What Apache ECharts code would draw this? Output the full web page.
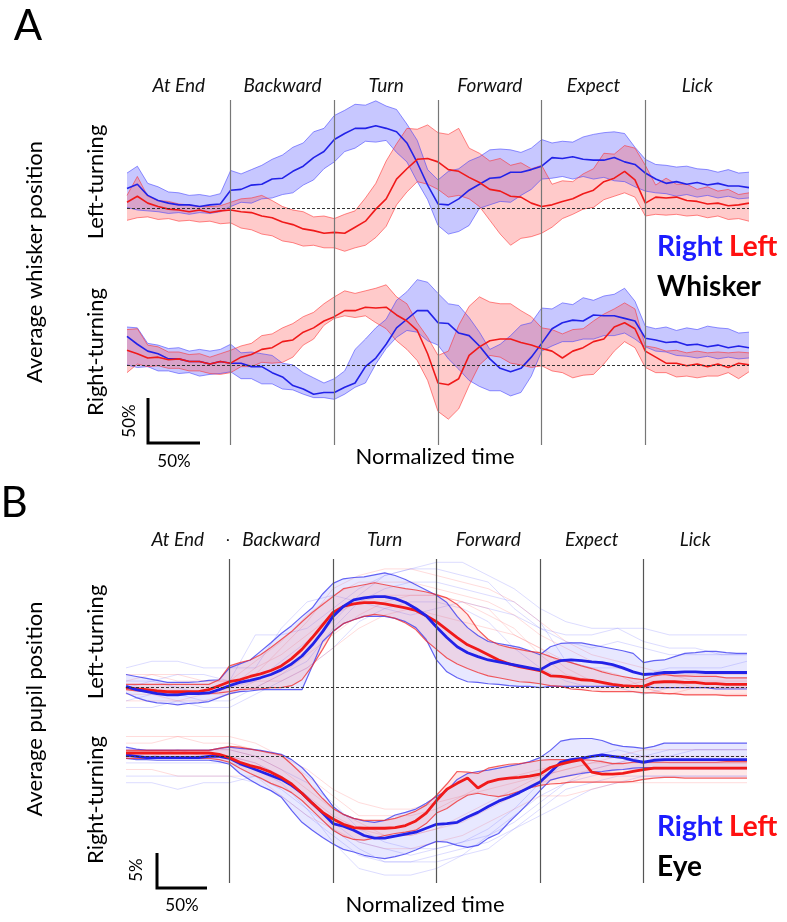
<!DOCTYPE html>
<html>
<head>
<meta charset="utf-8">
<script src="https://cdn.jsdelivr.net/npm/echarts@6/dist/echarts.min.js"></script>
<style>
  html, body { margin: 0; padding: 0; background: #fff; }
  #chart { width: 787px; height: 922px; }
</style>
</head>
<body>
<div id="chart"></div>
<script>
// normalized time, 100 units per behavioural phase
const TIME = [0,10,20,30,40,50,60,70,80,90,100,110,120,130,140,150,160,170,180,190,200,210,220,230,240,250,260,270,280,290,300,310,320,330,340,350,360,370,380,390,400,410,420,430,440,450,460,470,480,490,500,510,520,530,540,550,560,570,580,590,600];
const TIME_COARSE = [0,25,50,75,100,125,150,175,200,225,250,275,300,325,350,375,400,425,450,475,500,525,550,575,600];
const PHASES = ['At End', 'Backward', 'Turn', 'Forward', 'Expect', 'Lick'];
const PHASE_BOUNDS = [100, 200, 300, 400, 500];

// A: average whisker position (%), left-turning trials
const A_LT_R_MEAN = [23,28,15,9,6,4,4,2,4,5,21,22,27,28,34,35,43,49,59,66,80,87,93,93,96,93,89,76,53,27,5,4,11,21,28,35,36,42,42,45,49,59,58,60,57,56,56,59,54,51,41,34,29,31,28,30,27,29,26,26,24];
const A_LT_R_HI = [41,49,29,25,19,18,15,16,14,17,44,40,45,50,57,62,71,76,89,93,108,114,121,120,125,119,115,98,79,45,33,43,46,55,60,68,69,68,65,70,80,76,78,77,83,86,88,89,87,71,57,51,50,48,49,46,45,42,45,41,42];
const A_LT_R_LO = [1,-2,-3,-4,-6,-5,-7,-5,-6,-4,2,7,6,11,12,16,18,27,33,46,54,66,70,78,77,79,65,54,31,10,-20,-30,-27,-20,0,4,8,7,15,22,34,35,37,34,37,34,36,32,31,25,20,18,17,14,16,13,15,12,14,11,12];
const A_LT_L_MEAN = [7,14,6,2,-1,-2,-4,-2,-5,-3,-2,-4,-5,-9,-11,-16,-19,-24,-26,-29,-28,-29,-22,-15,-1,11,34,46,57,58,54,45,43,36,30,22,20,14,13,6,2,4,8,11,17,21,31,35,43,33,6,13,12,13,9,8,5,6,3,4,6];
const A_LT_L_HI = [15,37,14,9,8,5,4,2,2,3,7,11,12,15,9,2,-2,-4,-10,-9,-12,-7,-3,12,29,55,75,93,92,97,88,86,93,70,64,55,58,50,53,46,50,28,32,31,40,46,64,63,73,70,50,27,35,28,28,22,25,20,22,16,18];
const A_LT_L_LO = [-14,-11,-10,-13,-12,-15,-14,-16,-15,-18,-17,-23,-25,-30,-32,-38,-40,-44,-43,-46,-46,-50,-46,-43,-34,-21,4,19,31,28,22,13,15,11,2,-14,-30,-43,-35,-33,-29,-22,-12,-7,-1,1,10,14,18,13,-9,-7,-8,-7,-9,-8,-11,-9,-13,-12,-15];

// A: right-turning trials
const A_RT_R_MEAN = [33,24,16,13,7,7,4,4,1,4,2,2,-2,-2,-9,-14,-24,-28,-34,-32,-32,-26,-21,-2,8,24,43,53,63,63,49,48,37,34,22,7,-4,-8,-4,9,25,42,49,52,51,58,57,57,54,51,31,29,26,27,23,24,21,23,20,22,20];
const A_RT_R_HI = [44,43,25,23,19,20,16,18,16,18,24,14,15,13,11,2,0,-9,-15,-21,-16,-7,18,30,43,53,75,85,99,96,83,71,69,55,38,18,24,34,46,49,66,65,72,70,78,75,80,82,89,74,45,42,44,40,43,41,45,43,42,37,38];
const A_RT_R_LO = [0,-3,-2,-7,-7,-10,-9,-13,-11,-10,-8,-16,-16,-22,-22,-28,-29,-34,-38,-38,-40,-34,-26,-21,1,19,32,40,38,28,23,7,-5,-18,-25,-30,-30,-36,-32,-13,16,22,27,27,30,30,34,34,37,30,21,16,15,11,10,8,10,7,9,7,8];
const A_RT_L_MEAN = [17,13,8,9,6,7,4,4,1,4,2,9,12,18,20,27,29,38,43,51,56,63,63,67,66,67,58,51,40,13,-21,-23,-16,11,21,28,30,30,26,23,19,16,8,16,20,27,30,44,49,42,16,9,2,2,-1,1,-2,1,-3,2,0];
const A_RT_L_HI = [41,42,23,21,15,15,12,13,9,13,17,22,25,34,36,43,48,56,61,71,79,86,83,86,89,93,79,71,49,32,11,16,46,68,79,73,71,71,63,56,43,41,36,41,42,51,59,65,72,65,22,20,16,17,14,16,14,15,14,15,14];
const A_RT_L_LO = [-9,1,-2,-1,-4,-4,-7,-7,-10,-11,-9,-2,-2,3,2,3,9,23,30,46,54,57,55,57,49,42,28,18,5,-18,-54,-63,-51,-24,0,11,9,2,0,-3,-1,-7,-9,-15,-12,-11,1,16,27,20,-3,-9,-9,-14,-13,-15,-13,-13,-9,-16,-8];

// B: average pupil position (%), left-turning trials
const B_LT_R_MEAN = [0.2,-0.3,-0.6,-0.9,-1.1,-1.1,-0.9,-0.9,-0.8,-0.3,0.3,0.8,1.1,1.5,2.0,2.7,3.6,4.8,6.5,8.5,10.8,12.3,13.3,13.6,13.8,13.8,13.5,12.9,12.0,10.9,9.2,7.6,6.2,5.3,4.7,4.2,3.9,3.6,3.3,3.0,2.7,3.6,4.1,4.2,4.1,3.9,3.8,3.5,3.0,2.4,2.0,2.1,2.3,2.3,2.4,2.4,2.3,2.3,2.3,2.3,2.3];
const B_LT_R_HI = [2.0,1.7,1.4,1.1,0.8,0.8,0.8,0.9,1.1,1.2,3.0,3.6,4.2,5.5,6.8,8.2,9.4,10.8,12.1,14.2,15.8,16.5,16.7,16.8,17.1,17.4,17.0,16.4,15.6,14.8,14.0,12.9,10.8,9.1,7.9,7.0,6.7,6.4,6.1,5.6,5.0,6.2,6.7,6.8,6.8,6.5,6.2,5.9,5.6,5.2,3.8,4.1,4.2,4.7,5.2,5.3,5.5,5.5,5.3,5.2,5.2];
const B_LT_R_LO = [-0.8,-1.5,-2.0,-2.3,-2.4,-2.6,-2.4,-2.3,-2.1,-1.5,-0.9,-0.6,-0.5,-0.3,-0.3,-0.3,-0.3,-0.3,3.3,7.0,8.5,9.7,10.3,10.8,10.8,10.8,10.5,10.0,9.1,7.3,4.2,2.4,1.5,0.9,0.8,0.6,0.5,0.3,0.2,0.2,0,0.2,0.2,0.2,0.2,0.2,0.2,0.2,0.2,0.2,0.2,0,0,0,0,0,0,-0.2,-0.2,-0.2,-0.2];
const B_LT_L_MEAN = [0,-0.2,-0.3,-0.5,-0.6,-0.6,-0.6,-0.6,-0.3,0.3,0.9,1.2,1.7,2.1,2.6,3.3,4.4,5.8,7.6,9.5,11.4,12.3,12.7,12.9,12.9,12.7,12.4,12.1,11.7,10.9,10.0,8.8,7.6,6.5,5.8,5.0,4.2,3.6,3.2,2.9,2.6,1.8,1.7,1.5,1.2,1.1,0.8,0.5,0.3,0.2,0.2,0.8,0.9,0.9,0.8,0.8,0.6,0.6,0.5,0.5,0.5];
const B_LT_L_HI = [0.5,0.5,0.5,0.5,0.5,0.5,0.5,0.5,0.5,1.2,3.3,3.8,4.2,5.0,6.1,7.3,8.5,10.0,11.4,12.6,13.8,15.0,15.3,15.6,15.9,15.6,15.3,15.0,14.8,14.5,14.1,13.6,12.6,11.1,8.8,7.3,6.5,6.1,5.8,5.5,5.3,4.7,4.2,3.8,3.3,2.9,2.4,2.0,1.7,1.4,1.2,1.8,2.0,1.8,1.8,1.7,1.7,1.7,1.5,1.5,1.5];
const B_LT_L_LO = [-0.3,-0.5,-0.6,-0.8,-0.8,-0.9,-0.9,-0.9,-0.9,-0.8,-0.6,-0.3,-0.2,-0.2,0,0,0.3,1.2,3.3,5.8,8.5,9.7,10.3,10.8,11.1,10.9,10.5,9.8,8.8,7.1,5.8,4.5,3.6,2.9,2.3,1.8,1.5,1.2,0.9,0.8,0.6,0.3,0.2,-0.2,-0.3,-0.5,-0.6,-0.6,-0.6,-0.6,-0.8,-0.8,-0.9,-0.9,-1.1,-1.1,-1.1,-1.1,-1.2,-1.2,-1.2];

// B: right-turning trials
const B_RT_R_MEAN = [0.2,0,-0.2,-0.2,-0.2,-0.2,-0.2,-0.2,0,0,-0.3,-1.1,-1.7,-2.3,-2.9,-3.5,-4.4,-5.6,-7.1,-8.6,-10.2,-10.6,-11.2,-12.0,-12.4,-12.4,-12.1,-11.8,-11.5,-10.9,-10.3,-10.2,-10.0,-9.2,-8.5,-7.6,-6.8,-6.2,-5.5,-4.7,-3.9,-2.4,-0.9,-0.5,-0.3,0,0.2,0,-0.2,-0.6,-0.9,-0.6,-0.5,-0.5,-0.5,-0.5,-0.5,-0.5,-0.5,-0.5,-0.5];
const B_RT_R_HI = [1.4,1.1,0.9,0.9,0.9,0.9,0.9,0.9,0.9,1.2,1.4,1.2,1.1,0.9,0.6,0.3,-0.5,-1.7,-3.3,-5.5,-7.6,-8.8,-9.4,-9.8,-10.0,-9.7,-8.9,-8.5,-8.0,-7.1,-6.1,-5.2,-3.5,-2.6,-2.3,-2.1,-1.8,-1.5,-1.2,-0.8,-0.2,0.9,2.3,2.6,2.7,2.7,2.4,1.8,1.5,1.4,1.2,1.5,2.0,2.0,2.0,2.0,2.0,2.0,2.0,2.0,2.0];
const B_RT_R_LO = [-0.3,-0.5,-0.5,-0.6,-0.6,-0.6,-0.6,-0.6,-0.6,-0.8,-1.2,-2.6,-3.6,-4.5,-5.2,-6.2,-8.2,-10.0,-11.2,-12.3,-13.3,-14.1,-14.5,-15.0,-15.3,-15.5,-15.2,-14.8,-14.2,-13.5,-12.9,-13.0,-13.5,-13.8,-13.5,-12.4,-11.7,-10.0,-8.5,-6.9,-5.2,-3.6,-3.2,-2.9,-2.6,-2.4,-2.3,-2.1,-2.0,-1.8,-1.7,-1.7,-1.7,-1.8,-1.8,-1.8,-1.8,-1.8,-1.8,-1.8,-1.8];
const B_RT_L_MEAN = [0.5,0.5,0.5,0.5,0.5,0.5,0.5,0.5,0.5,0.3,-0.2,-0.9,-1.4,-1.8,-2.4,-3.2,-4.2,-5.6,-7.1,-8.5,-9.5,-10.3,-10.8,-10.9,-10.9,-10.9,-10.8,-10.5,-9.8,-8.6,-6.7,-5.0,-4.1,-3.3,-4.8,-3.9,-3.5,-3.3,-3.2,-3.0,-2.7,-1.7,-1.2,-0.8,-0.5,-2.4,-2.7,-2.7,-2.6,-2.3,-2.0,-1.8,-1.8,-1.8,-1.8,-1.8,-1.8,-1.8,-1.8,-1.8,-1.8];
const B_RT_L_HI = [0.9,0.9,0.9,0.9,0.9,0.9,0.9,0.9,0.9,1.2,1.5,1.4,1.1,0.8,0.5,0.2,-1.2,-2.7,-4.7,-6.4,-7.9,-8.8,-9.4,-9.7,-9.7,-9.7,-9.4,-8.9,-8.3,-7.4,-5.9,-4.2,-2.3,-2.4,-2.6,-1.8,-1.5,-1.2,-1.1,-0.9,-0.6,-0.5,-0.5,-0.5,-0.5,-0.6,-0.8,-1.1,-1.1,-0.9,-0.9,-0.9,-0.9,-0.9,-0.9,-0.9,-0.9,-0.9,-0.8,-0.8,-0.8];
const B_RT_L_LO = [-0.3,-0.3,-0.3,-0.3,-0.3,-0.3,-0.3,-0.3,-0.3,-0.5,-0.9,-1.8,-2.6,-3.3,-4.1,-4.7,-5.5,-6.7,-8.2,-9.7,-11.2,-12.1,-12.6,-12.7,-12.4,-12.0,-11.7,-11.5,-11.2,-10.2,-8.6,-7.9,-6.8,-5.9,-5.6,-5.9,-6.1,-5.8,-5.3,-4.8,-4.4,-4.2,-4.1,-3.9,-3.9,-3.9,-3.9,-3.9,-3.9,-3.8,-3.5,-3.3,-3.2,-3.2,-3.3,-3.3,-3.3,-3.3,-3.3,-3.3,-3.3];

// B: single-session traces (faint background)
const B_LT_TRACES_R = [
  [1,1,2,2,1,8,8,9,12,15,17,18,18,17,16,12,9,7,6,7,6,5,5,5,5],
  [-2,-1,-1,-2,-2,0,2,4,9,13,15,16,16,15,14,13,10,4,3,3,2,3,3,3,4],
  [3,4,4,3,3,3,9,13,14,13,12,11,12,13,12,11,9,8,8,9,7,6,6,5,5],
  [0,1,0,-1,0,1,4,7,10,14,17,18,19,19,17,15,12,10,9,9,9,8,8,8,8],
  [-3,-3,-2,-3,-3,-1,1,3,6,10,12,13,13,12,10,6,3,1,0,0,-1,0,0,0,0]
];
const B_LT_TRACES_L = [
  [0,0,-1,-1,0,3,5,8,11,13,14,14,14,13,12,8,6,3,1,0,1,1,0,0,0],
  [1,2,1,1,1,2,6,10,15,17,18,18,17,16,15,13,10,7,5,4,3,2,2,2,2],
  [-1,-1,-2,-1,-1,1,1,3,6,9,11,12,11,10,9,8,6,4,3,2,0,-1,-1,-1,-1],
  [2,2,2,1,1,4,7,11,14,16,16,16,15,14,13,11,8,6,4,3,2,2,1,1,1],
  [-2,-2,-2,-2,-1,0,2,5,8,11,13,14,14,13,11,9,5,2,1,0,0,-1,0,0,0]
];
const B_RT_TRACES_R = [
  [0,0,1,0,0,-1,-3,-6,-10,-13,-14,-15,-14,-13,-11,-8,-4,-1,0,1,0,1,1,1,1],
  [-4,-4,-5,-4,-4,-3,-5,-8,-11,-14,-16,-16,-16,-15,-14,-11,-8,-5,-4,-3,-3,-3,-3,-3,-3],
  [-1,-1,-1,-1,-1,-2,-4,-8,-13,-17,-18,-18,-17,-15,-12,-9,-6,-4,-3,-2,-2,-2,-2,-2,-2],
  [1,1,1,1,1,0,-2,-4,-7,-11,-13,-14,-14,-13,-12,-10,-7,-4,-2,-1,0,0,1,1,1],
  [-3,-3,-3,-3,-3,-4,-6,-9,-12,-15,-16,-16,-15,-14,-13,-11,-9,-7,-5,-4,-3,-3,-3,-3,-3]
];
const B_RT_TRACES_L = [
  [1,1,1,1,1,0,-2,-5,-8,-10,-12,-12,-11,-10,-8,-6,-4,-3,-2,-1,-1,-1,-1,-1,-1],
  [2,2,3,2,2,1,0,-3,-6,-9,-9,-9,-8,-6,-5,-4,-3,-2,-1,-1,0,-1,-1,-1,-1],
  [-2,-2,-3,-3,-3,-3,-6,-9,-11,-13,-14,-14,-13,-12,-10,-8,-6,-6,-5,-4,-4,-4,-4,-4,-4],
  [0,0,0,0,0,-1,-3,-6,-9,-11,-12,-12,-11,-9,-7,-5,-3,-2,-1,0,0,0,0,0,0],
  [3,3,3,3,3,2,0,-2,-5,-7,-8,-8,-7,-6,-4,-3,-2,-1,0,0,1,1,1,1,1]
];

const FONT = 'Lato, "Open Sans", sans-serif';
const BLUE = '#2222e8';
const RED = '#f01a1a';

const chart = echarts.init(document.getElementById('chart'));

const pairs = (xs, ys) => xs.map((x, i) => [x, ys[i]]);

function plainLine(gi, xs, ys, color, width, z) {
  return {
    type: 'line', xAxisIndex: gi, yAxisIndex: gi, data: pairs(xs, ys),
    symbol: 'none', silent: true, animation: false, z: z,
    lineStyle: { color: color, width: width }
  };
}

// shaded band between lo and hi, drawn as one polygon through the axes
function band(gi, lo, hi, fill, edge, edgeWidth) {
  const rows = TIME.map((t, i) => [t, lo[i], hi[i]]);
  return [
    {
      type: 'custom', xAxisIndex: gi, yAxisIndex: gi, data: rows,
      encode: { x: 0, y: [1, 2] }, silent: true, animation: false, z: 2,
      renderItem: (params, api) => {
        if (params.dataIndex !== 0) return null;
        const top = rows.map(r => api.coord([r[0], r[2]]));
        const bottom = rows.slice().reverse().map(r => api.coord([r[0], r[1]]));
        return { type: 'polygon', shape: { points: top.concat(bottom) }, style: { fill: fill } };
      }
    },
    plainLine(gi, TIME, lo, edge, edgeWidth, 2),
    plainLine(gi, TIME, hi, edge, edgeWidth, 2)
  ];
}

const meanLine = (gi, ys, color, width) => plainLine(gi, TIME, ys, color, width, 3);
const traces = (gi, list, color) => list.map(ys => plainLine(gi, TIME_COARSE, ys, color, 1, 1));

// phase boundaries and zero line for each subplot
function guides(gi, lineColor) {
  return {
    type: 'line', xAxisIndex: gi, yAxisIndex: gi, data: [], silent: true, animation: false,
    markLine: {
      silent: true, symbol: 'none', animation: false, z: 4,
      label: { show: false },
      data: PHASE_BOUNDS.map(b => ({ xAxis: b, lineStyle: { color: lineColor, width: 1.2, type: 'solid' } }))
        .concat([{ yAxis: 0, lineStyle: { color: '#333', width: 1, type: [3, 2] } }])
    }
  };
}

const AFILL_B = 'rgba(70,70,255,0.30)', AEDGE_B = 'rgba(60,60,255,0.55)';
const AFILL_R = 'rgba(255,80,80,0.30)', AEDGE_R = 'rgba(255,40,40,0.55)';
const BFILL_B = 'rgba(110,110,255,0.16)', BEDGE_B = 'rgba(50,50,240,0.75)';
const BFILL_R = 'rgba(255,110,110,0.16)', BEDGE_R = 'rgba(240,40,40,0.75)';
const TRACE_B = 'rgba(80,80,255,0.2)', TRACE_R = 'rgba(255,80,80,0.2)';

const series = [].concat(
  // A, left-turning
  band(0, A_LT_R_LO, A_LT_R_HI, AFILL_B, AEDGE_B, 1),
  band(0, A_LT_L_LO, A_LT_L_HI, AFILL_R, AEDGE_R, 1),
  [meanLine(0, A_LT_R_MEAN, BLUE, 1.6), meanLine(0, A_LT_L_MEAN, RED, 1.6), guides(0, '#777')],
  // A, right-turning
  band(1, A_RT_R_LO, A_RT_R_HI, AFILL_B, AEDGE_B, 1),
  band(1, A_RT_L_LO, A_RT_L_HI, AFILL_R, AEDGE_R, 1),
  [meanLine(1, A_RT_R_MEAN, BLUE, 1.6), meanLine(1, A_RT_L_MEAN, RED, 1.6), guides(1, '#777')],
  // B, left-turning
  traces(2, B_LT_TRACES_R, TRACE_B),
  traces(2, B_LT_TRACES_L, TRACE_R),
  band(2, B_LT_R_LO, B_LT_R_HI, BFILL_B, BEDGE_B, 1.2),
  band(2, B_LT_L_LO, B_LT_L_HI, BFILL_R, BEDGE_R, 1.2),
  [meanLine(2, B_LT_L_MEAN, RED, 2.8), meanLine(2, B_LT_R_MEAN, BLUE, 2.8), guides(2, '#555')],
  // B, right-turning
  traces(3, B_RT_TRACES_R, TRACE_B),
  traces(3, B_RT_TRACES_L, TRACE_R),
  band(3, B_RT_R_LO, B_RT_R_HI, BFILL_B, BEDGE_B, 1.2),
  band(3, B_RT_L_LO, B_RT_L_HI, BFILL_R, BEDGE_R, 1.2),
  [meanLine(3, B_RT_R_MEAN, BLUE, 2.8), meanLine(3, B_RT_L_MEAN, RED, 2.8), guides(3, '#555')]
);

const grids = [
  { left: 127, width: 622, top: 100, height: 165 },
  { left: 127, width: 622, top: 265, height: 180 },
  { left: 126, width: 621, top: 559, height: 163 },
  { left: 126, width: 621, top: 722, height: 161 }
].map(g => Object.assign({ containLabel: false, outerBoundsMode: 'none' }, g));

const yRanges = [[-66, 126], [-93, 116], [-5.2, 19.5], [-19.2, 5.2]];

const hiddenX = [0, 1, 2, 3].map(gi => ({ type: 'value', gridIndex: gi, min: 0, max: 600, show: false }));
const phaseAxis = (gi, margin) => ({
  type: 'category', gridIndex: gi, position: 'top', data: PHASES, boundaryGap: true,
  axisLine: { show: false }, axisTick: { show: false }, splitLine: { show: false },
  axisLabel: { margin: margin, fontFamily: FONT, fontStyle: 'italic', fontSize: 19, color: '#111', interval: 0 }
});

const txt = (text, x, y, size, opts) => ({
  type: 'text', x: x, y: y, silent: true, z: 100,
  rotation: opts && opts.rotate ? Math.PI / 2 : 0,
  style: Object.assign({
    text: text, fontFamily: FONT, fontSize: size, fill: '#000',
    align: 'center', verticalAlign: 'middle'
  }, opts && opts.style)
});

const scaleBar = (x, y0, y1, x1) => ({
  type: 'polyline', silent: true, z: 100,
  shape: { points: [[x, y0], [x, y1], [x1, y1]] },
  style: { stroke: '#000', lineWidth: 3, fill: null }
});

chart.setOption({
  backgroundColor: '#fff',
  animation: false,
  grid: grids,
  xAxis: hiddenX.concat([phaseAxis(0, 5), phaseAxis(2, 10)]),
  yAxis: yRanges.map((r, gi) => ({ type: 'value', gridIndex: gi, min: r[0], max: r[1], show: false })),
  series: series,
  graphic: [
    txt('A', 28, 26, 42),
    txt('B', 14, 503, 42),
    txt('Average whisker position', 35, 262, 22, { rotate: true }),
    txt('Left-turning', 96, 182, 22, { rotate: true }),
    txt('Right-turning', 96, 352, 22, { rotate: true }),
    txt('Average pupil position', 35, 709, 22, { rotate: true }),
    txt('Left-turning', 96, 642, 22, { rotate: true }),
    txt('Right-turning', 96, 800, 22, { rotate: true }),
    scaleBar(148, 398, 443, 200),
    txt('50%', 130, 421, 17, { rotate: true }),
    txt('50%', 174, 462, 17),
    scaleBar(157, 853, 888, 207),
    txt('5%', 137, 870, 17, { rotate: true }),
    txt('50%', 182, 906, 17),
    txt('Normalized time', 435, 457, 22),
    txt('Normalized time', 425, 905, 22),
    txt('.', 228, 536, 16),
    txt('Right', 657, 247, 28, { style: { align: 'left', fill: '#1c1cff', fontWeight: 'bold' } }),
    txt('Left', 729, 247, 28, { style: { align: 'left', fill: '#ff1010', fontWeight: 'bold' } }),
    txt('Whisker', 657, 287, 28, { style: { align: 'left', fontWeight: 'bold' } }),
    txt('Right', 657, 827, 28, { style: { align: 'left', fill: '#1c1cff', fontWeight: 'bold' } }),
    txt('Left', 729, 827, 28, { style: { align: 'left', fill: '#ff1010', fontWeight: 'bold' } }),
    txt('Eye', 657, 867, 28, { style: { align: 'left', fontWeight: 'bold' } })
  ]
});

window.addEventListener('resize', () => chart.resize());
</script>
</body>
</html>
